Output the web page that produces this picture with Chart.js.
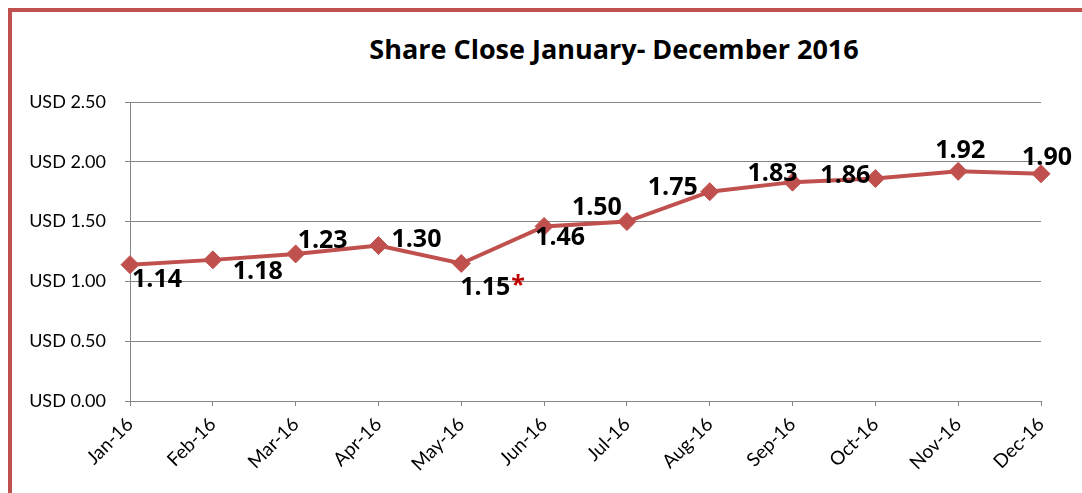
<!DOCTYPE html>
<html>
<head>
<meta charset="utf-8">
<script src="https://cdn.jsdelivr.net/npm/chart.js@4.4.1/dist/chart.umd.min.js"></script>
<style>
  html, body { margin: 0; padding: 0; background: #fff; overflow: hidden; }
  body { width: 1082px; height: 493px; position: relative; }
  #frame {
    position: absolute; left: 8px; top: 8px; width: 1200px; height: 600px;
    border: 4px solid #c0504d; box-sizing: border-box;
  }
  #title {
    position: absolute; left: 0; width: 1228px; top: 30px; text-align: center;
    font: bold 27px "Open Sans", Lato, sans-serif; color: #000;
  }
  #wrap { position: absolute; left: 0; top: 0; width: 1082px; height: 493px; }
</style>
</head>
<body>
<div id="frame"></div>
<div id="title">Share Close January- December 2016</div>
<div id="wrap"><canvas id="c"></canvas></div>
<script>
// Share close price per month, 2016
const MONTHS = ['Jan-16', 'Feb-16', 'Mar-16', 'Apr-16', 'May-16', 'Jun-16',
                'Jul-16', 'Aug-16', 'Sep-16', 'Oct-16', 'Nov-16', 'Dec-16'];
const CLOSE = [1.14, 1.18, 1.23, 1.30, 1.15, 1.46, 1.50, 1.75, 1.83, 1.86, 1.92, 1.90];
const NOTE_MARK = ['', '', '', '', '*', '', '', '', '', '', '', ''];
const Y_TICKS = [0, 0.5, 1.0, 1.5, 2.0, 2.5];

// where each value label sits relative to its marker (px)
const LABEL_OFFSET = [
  [27, 15], [45, 12], [27, -13], [38, -6], [24, 24], [16, 11],
  [-30, -14], [-37, -4], [-20, -8], [-30, -3], [2, -20], [6, -16]
];

const RED = '#c0504d';
const GRID = '#868686';
const AXIS_FONT = 'Lato, "Open Sans", sans-serif';
const LABEL_FONT = '"Open Sans", Lato, sans-serif';

const valueLabels = {
  id: 'valueLabels',
  afterDatasetsDraw(chart) {
    const ctx = chart.ctx;
    const pts = chart.getDatasetMeta(0).data;
    ctx.save();
    ctx.font = 'bold 25px ' + LABEL_FONT;
    ctx.textBaseline = 'middle';
    pts.forEach((p, i) => {
      const txt = CLOSE[i].toFixed(2);
      const w = ctx.measureText(txt).width;
      const cx = p.x + LABEL_OFFSET[i][0];
      const cy = p.y + LABEL_OFFSET[i][1];
      ctx.fillStyle = '#000';
      ctx.textAlign = 'center';
      ctx.fillText(txt, cx, cy);
      if (NOTE_MARK[i]) {
        ctx.fillStyle = '#c00000';
        ctx.textAlign = 'left';
        ctx.fillText(NOTE_MARK[i], cx + w / 2 + 1, cy - 2);
      }
    });
    ctx.restore();
  }
};

new Chart(document.getElementById('c'), {
  type: 'line',
  data: {
    labels: MONTHS,
    datasets: [{
      data: CLOSE,
      borderColor: RED,
      backgroundColor: RED,
      borderWidth: 4,
      tension: 0,
      pointStyle: 'rectRot',
      pointRadius: 9,
      pointHoverRadius: 9,
      pointBackgroundColor: RED,
      pointBorderColor: RED,
      pointBorderWidth: 1
    }]
  },
  options: {
    responsive: true,
    maintainAspectRatio: false,
    animation: false,
    events: [],
    layout: { padding: { top: 102, left: 0, right: 41, bottom: 0 } },
    plugins: {
      legend: { display: false },
      title: { display: false },
      tooltip: { enabled: false }
    },
    scales: {
      x: {
        offset: false,
        grid: { display: true, drawOnChartArea: false, drawTicks: true, tickLength: 5, color: GRID },
        border: { color: GRID, width: 1 },
        ticks: {
          color: '#000', font: { family: AXIS_FONT, size: 19 },
          minRotation: 45, maxRotation: 45, padding: 7, autoSkip: false
        },
        afterFit(s) { s.height = 92; s.paddingLeft = 0; s.paddingRight = 0; }
      },
      y: {
        min: 0,
        max: 2.5,
        afterBuildTicks(s) { s.ticks = Y_TICKS.map(v => ({ value: v })); },
        grid: { color: GRID, tickLength: 5, drawTicks: true },
        border: { color: GRID, width: 1 },
        ticks: {
          color: '#000', font: { family: AXIS_FONT, size: 18 }, padding: 19,
          callback: (v) => 'USD ' + Number(v).toFixed(2)
        },
        afterFit(s) { s.width = 130; s.paddingTop = 0; s.paddingBottom = 0; }
      }
    }
  },
  plugins: [valueLabels]
});
</script>
</body>
</html>
